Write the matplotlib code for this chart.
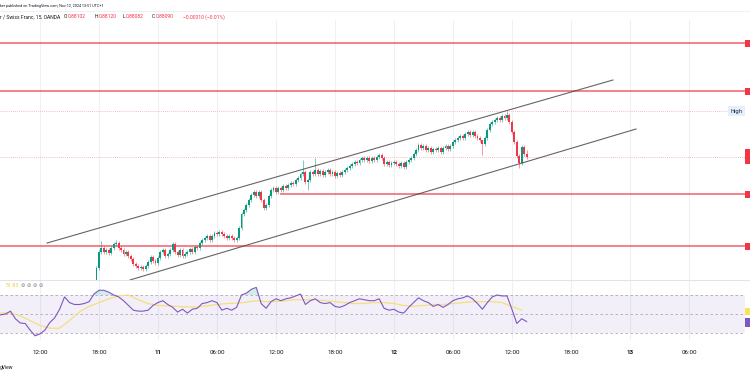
import matplotlib
matplotlib.use("Agg")
import matplotlib.pyplot as plt
import matplotlib.transforms as mtransforms
from matplotlib.patches import Rectangle
import numpy as np

# ---------------- data ----------------
# USD/CHF 15-min closes, bar 0 = Nov 10 17:45 (UTC+1)
first_open = 0.87582
closes = [
 0.87646,0.87710,0.87726,0.87710,0.87718,0.87706,0.87726,0.87742,0.87746,0.87726,
 0.87718,0.87702,0.87710,0.87694,0.87682,0.87662,0.87654,0.87646,0.87650,0.87642,
 0.87654,0.87670,0.87690,0.87674,0.87666,0.87686,0.87710,0.87718,0.87694,0.87702,
 0.87718,0.87742,0.87710,0.87698,0.87718,0.87694,0.87702,0.87710,0.87722,0.87710,
 0.87730,0.87726,0.87746,0.87758,0.87766,0.87774,0.87758,0.87774,0.87786,0.87782,
 0.87790,0.87782,0.87774,0.87766,0.87774,0.87766,0.87758,0.87766,0.87806,0.87862,
 0.87878,0.87898,0.87918,0.87938,0.87950,0.87934,0.87950,0.87918,0.87886,0.87898,
 0.87934,0.87958,0.87966,0.87950,0.87966,0.87958,0.87974,0.87966,0.87978,0.87986,
 0.87982,0.87998,0.88006,0.88022,0.88030,0.87990,0.87998,0.88030,0.88022,0.88038,
 0.88022,0.88034,0.88018,0.88030,0.88038,0.88022,0.88030,0.88014,0.88026,0.88018,
 0.88030,0.88038,0.88046,0.88054,0.88062,0.88070,0.88066,0.88078,0.88086,0.88078,
 0.88086,0.88074,0.88086,0.88078,0.88090,0.88098,0.88086,0.88062,0.88070,0.88058,
 0.88066,0.88070,0.88062,0.88054,0.88066,0.88050,0.88070,0.88078,0.88086,0.88102,
 0.88118,0.88138,0.88126,0.88134,0.88118,0.88126,0.88110,0.88122,0.88118,0.88126,
 0.88110,0.88126,0.88134,0.88122,0.88134,0.88150,0.88158,0.88166,0.88174,0.88166,
 0.88182,0.88190,0.88178,0.88190,0.88174,0.88166,0.88158,0.88142,0.88166,0.88198,
 0.88222,0.88230,0.88238,0.88246,0.88238,0.88254,0.88246,0.88258,0.88230,0.88190,
 0.88150,0.88094,0.88066,0.88130,0.88102,0.88090,
]
# notable wick extremes (bar index -> price)
wick_highs = {2: 0.87754, 8: 0.87758, 31: 0.87750, 84: 0.88078, 89: 0.88086,
              157: 0.88158, 167: 0.88274, 175: 0.88120}
wick_lows = {0: 0.87582, 86: 0.87958, 157: 0.88098, 172: 0.88046, 175: 0.88082}

# horizontal support / resistance levels and where they start (bar index, None = chart edge)
levels = [0.88546, 0.88354, 0.87942, 0.87734]
level_start = [None, None, 74.5, None]
high_level = 0.88274
last_price = 0.88090

# channel lines: (bar index, price) endpoints
channel_upper = [(-20.1, 0.87746), (210.1, 0.88398)]
channel_lower = [(13.6, 0.87598), (219.5, 0.88202)]

# RSI (every 2 bars starting at bar -39) and its moving average (every 4 bars)
rsi_vals = [49,50,53,45,40.5,40,33,27,29,33,41,46,55,68,62,60,60,61,63,71,
            75,75,73,70,68,64,59,54,53,53,54,59,62,64,60,57,52,55,51,55,
            56,61,62,64,62,54,56,54,57,70,72,76,78,61,56,63,66,64,66,67,
            69,71,60,64,66,62,61,62,58,57,59,62,64,66,65,64,64,66,56,54,
            55,52,51,57,62,67,64,62,58,60,57,60,64,66,67,69,66,61,55,62,
            68,70,69,69,55,40,45,42]
ma_vals = [51,51,48,43,38,35,35,43,52,58,62,66,69,70,65,61,59,58.5,58,57.5,
           57.5,58.5,60,61,61.5,62.5,64,63,63,64,65,65,65,64,63,62,61,61,62,62,
           61,59,58,59,60,60,61,62,63,63,63,62,58,54]
rsi_label = "51.83"

tick_labels = ["12:00", "18:00", "11", "06:00", "12:00", "18:00", "12",
               "06:00", "12:00", "18:00", "13", "06:00"]
tick_hours = [12, 18, 24, 30, 36, 42, 48, 54, 60, 66, 72, 78]  # hours since Nov 10 00:00
first_bar_hour = 17.75

# ---------------- layout ----------------
W, H = 750, 375
BAR_PX = 2.458
FIRST_BAR_PX = 96.5
UP, DOWN = "#089981", "#F23645"
LEVEL_RED = "#F23645"

fig = plt.figure(figsize=(7.5, 3.75), dpi=100)
fig.patch.set_facecolor("white")

def px_axes(x0, y0, x1, y1):
    a = fig.add_axes([x0 / W, 1 - y1 / H, (x1 - x0) / W, (y1 - y0) / H])
    a.set_axis_off()
    a.set_xlim((0 - FIRST_BAR_PX) / BAR_PX, (W - FIRST_BAR_PX) / BAR_PX)
    return a

ax = px_axes(0, 20, 750, 280)
ax.set_ylim(0.87598, 0.88638)
rax = px_axes(0, 280, 750, 340)
rax.set_ylim(22.6, 85.8)

tick_idx = [(h - first_bar_hour) * 4 for h in tick_hours]

# vertical grid
for t in tick_idx:
    ax.axvline(t, color="#eef0f4", lw=0.8, zorder=0)
    rax.axvline(t, color="#eef0f4", lw=0.8, zorder=0)

# ---- candles ----
n = len(closes)
idx = np.arange(n)
c = np.array(closes)
o = np.array([first_open] + closes[:-1])
pad = 0.00007
hi = np.maximum(o, c) + pad
lo = np.minimum(o, c) - pad
for k, v in wick_highs.items():
    hi[k] = v
for k, v in wick_lows.items():
    lo[k] = v
cols = [UP if cc >= oo else DOWN for oo, cc in zip(o, c)]
ax.vlines(idx, lo, hi, colors=cols, lw=0.6, alpha=0.6, zorder=3)
body = np.maximum(np.abs(c - o), 0.00003)
ax.bar(idx, body, bottom=np.minimum(o, c), width=0.78, color=cols, lw=0, zorder=4)

# ---- levels ----
xl = ax.get_xlim()
for lv, st in zip(levels, level_start):
    x0 = xl[0] if st is None else st
    ax.plot([x0, (745 - FIRST_BAR_PX) / BAR_PX], [lv, lv], color=LEVEL_RED, lw=1.1,
            alpha=0.8, zorder=2, solid_capstyle="butt")
ax.plot([xl[0], (728 - FIRST_BAR_PX) / BAR_PX], [high_level, high_level],
        color="#f4a6ab", lw=0.6, ls=(0, (1, 1.5)), zorder=1)
ax.plot([xl[0], (745 - FIRST_BAR_PX) / BAR_PX], [last_price, last_price],
        color="#f4a6ab", lw=0.6, ls=(0, (1, 1.5)), zorder=1)

# ---- channel ----
for ln in (channel_upper, channel_lower):
    ax.plot([ln[0][0], ln[1][0]], [ln[0][1], ln[1][1]], color="#4a4a4a", lw=0.8,
            alpha=0.85, zorder=5)

# ---- right side labels ----
bt = mtransforms.blended_transform_factory(ax.transAxes, ax.transData)
ppx = (0.88638 - 0.87598) / 260.0
for lv in levels:
    ax.add_patch(Rectangle((745 / W, lv - 3.5 * ppx), 5 / W, 7 * ppx, transform=bt,
                           color=LEVEL_RED, lw=0, clip_on=False, zorder=6))
ax.add_patch(Rectangle((745 / W, last_price - 7.5 * ppx), 5 / W, 15 * ppx, transform=bt,
                       color=LEVEL_RED, lw=0, clip_on=False, zorder=6))
ax.add_patch(Rectangle((728 / W, high_level - 4.5 * ppx), 17 / W, 9 * ppx, transform=bt,
                       color="#e3effd", lw=0, clip_on=False, zorder=6))
ax.text(736.5 / W, high_level, "High", transform=bt, fontsize=3.8, color="#131722",
        ha="center", va="center", zorder=7)

# ---- RSI pane ----
rsi_x = np.array([-39 + 2 * k for k in range(len(rsi_vals))])
ma_x = np.array([-39 + 4 * k for k in range(len(ma_vals))])
r = np.array(rsi_vals, dtype=float)
band_end = 745 / W
rax.axhspan(30, 70, xmin=0, xmax=band_end, color="#7e57c2", alpha=0.09, lw=0, zorder=0)
for lvl in (70, 50, 30):
    rax.axhline(lvl, xmin=0, xmax=band_end, color="#9598a1", lw=0.6,
                ls=(0, (3, 3)), alpha=0.8, zorder=1)
rax.fill_between(rsi_x, r, 70, where=r > 70, interpolate=True, color="#089981",
                 alpha=0.18, lw=0, zorder=1)
rax.fill_between(rsi_x, r, 30, where=r < 30, interpolate=True, color="#F23645",
                 alpha=0.18, lw=0, zorder=1)
rax.plot(ma_x, ma_vals, color="#f5df7c", lw=0.9, zorder=2)
rax.plot(rsi_x, r, color="#7e57c2", lw=0.8, zorder=3)
rbt = mtransforms.blended_transform_factory(rax.transAxes, rax.transData)
rax.add_patch(Rectangle((745 / W, 52.6 - 3.7), 5 / W, 7.4, transform=rbt,
                        color="#f7e45a", lw=0, clip_on=False, zorder=6))
rax.add_patch(Rectangle((745 / W, 41.0 - 4.7), 5 / W, 9.4, transform=rbt,
                        color="#7e57c2", lw=0, clip_on=False, zorder=6))

# pane separator and top border
fig.add_artist(plt.Line2D([0, 1], [1 - 280 / H, 1 - 280 / H], color="#e0e3eb", lw=0.8))
fig.add_artist(plt.Line2D([0, 1], [1 - 11 / H, 1 - 11 / H], color="#eceef2", lw=0.6))

# x tick labels
xbt = mtransforms.blended_transform_factory(rax.transData, fig.transFigure)
for t, lab in zip(tick_idx, tick_labels):
    bold = lab.isdigit()
    rax.text(t, 1 - 352 / H, lab, transform=xbt, fontsize=4.5, ha="center", va="center",
             color="#131722", fontweight="bold" if bold else "normal",
             family="Roboto")

# ---- header texts ----
def ftext(x, y, s, **kw):
    fig.text(x / W, 1 - y / H, s, va="center", ha="left", **kw)

ftext(0, 6, "ker published on TradingView.com, Nov 12, 2024 13:51 UTC+1",
      fontsize=2.7, color="#131722", family="Roboto")
ftext(0, 17, "r / Swiss Franc, 15, OANDA", fontsize=3.6, color="#131722", family="Roboto")
parts = [(64, "O", "#131722"), (67.5, "0.88102", "#F23645"),
         (95, "H", "#131722"), (98.5, "0.88120", "#F23645"),
         (123, "L", "#131722"), (126, "0.88082", "#F23645"),
         (152, "C", "#131722"), (155.5, "0.88090", "#F23645"),
         (183, "\u22120.00010 (\u22120.01%)", "#F23645")]
for x, s, col in parts:
    ftext(x, 17, s, fontsize=3.6, color=col, family="Roboto")

ftext(6, 285.5, rsi_label, fontsize=3.9, color="#e9cf3c", family="Roboto")
for k in range(4):
    ftext(21 + 6 * k, 285.5, "\u2298", fontsize=3.8, color="#787b86")
ftext(0, 368, "gView", fontsize=3.6, color="#131722", family="Roboto")

fig.savefig("out.png", dpi=100, facecolor="white")
